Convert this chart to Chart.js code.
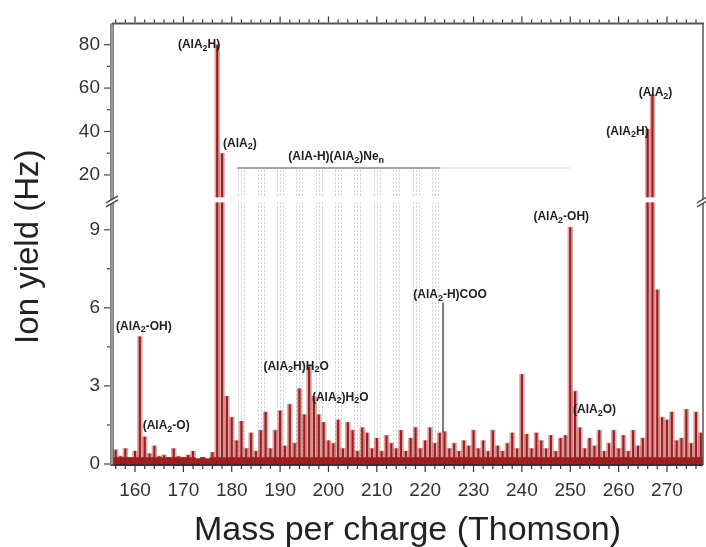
<!DOCTYPE html>
<html>
<head>
<meta charset="utf-8">
<script src="https://cdn.jsdelivr.net/npm/chart.js@4/dist/chart.umd.min.js"></script>
<style>
  html, body { margin: 0; padding: 0; background: #fff; }
  #wrap { width: 706px; height: 547px; }
</style>
</head>
<body>
<div id="wrap"><canvas id="spectrum" width="706" height="547"></canvas></div>
<script>
// Mass spectrum: ion yield per mass-to-charge ratio
const massPerCharge = [
  155,156,157,158,159,160,161,162,163,164,
  165,166,167,168,169,170,171,172,173,174,
  175,176,177,178,179,180,181,182,183,184,
  185,186,187,188,189,190,191,192,193,194,
  195,196,197,198,199,200,201,202,203,204,
  205,206,207,208,209,210,211,212,213,214,
  215,216,217,218,219,220,221,222,223,224,
  225,226,227,228,229,230,231,232,233,234,
  235,236,237,238,239,240,241,242,243,244,
  245,246,247,248,249,250,251,252,253,254,
  255,256,257,258,259,260,261,262,263,264,
  265,266,267,268,269,270,271,272,273,274,
  275,276,277
];
const ionYieldHz = [
  0.5,0.55,0.3,0.6,0.25,0.5,4.9,1.05,0.4,0.7,
  0.3,0.35,0.25,0.6,0.3,0.25,0.35,0.5,0.2,0.25,
  0.2,0.45,80,30,2.6,1.8,0.9,1.65,0.6,1.2,
  0.5,1.3,2.0,0.6,1.3,2.05,0.7,2.3,0.8,2.9,
  1.9,3.75,2.6,1.9,1.6,0.9,0.8,1.7,0.6,1.6,
  1.3,0.5,1.4,1.2,0.6,1.0,0.5,1.1,0.8,0.6,
  1.3,0.5,1.0,1.4,0.6,0.9,1.4,0.8,1.2,1.25,
  0.6,0.8,0.5,0.9,0.7,1.3,0.6,0.9,0.5,1.3,
  0.7,0.5,0.8,1.2,0.6,3.45,1.15,0.6,1.2,0.9,
  0.6,1.1,0.5,1.0,1.1,9.1,2.8,1.4,0.6,1.0,
  0.7,1.3,0.5,0.8,1.3,0.6,1.1,0.5,1.3,0.7,
  1.0,41,57,6.7,1.8,1.7,2.0,0.9,1.0,2.1,
  0.8,2.0,1.2
];

// Tick labels
const xTickValues = [160,170,180,190,200,210,220,230,240,250,260,270];
const lowTickValues = [0,3,6,9];
const highTickValues = [20,40,60,80];
const lowMinorTicks = [1.5,4.5,7.5];
const highMinorTicks = [30,50,70];

// Peak assignments (text, m/z, yield in Hz)
const peakLabels = ['(AlA_2-OH)','(AlA_2-O)','(AlA_2H)','(AlA_2)','(AlA-H)(AlA_2)Ne_n',
                    '(AlA_2-H)COO','(AlA_2H)H_2O','(AlA_2)H_2O','(AlA_2-OH)',
                    '(AlA_2O)','(AlA_2H)','(AlA_2)'];
const peakLabelMz = [161,162,177,178,201.6,223.7,196,197,250,251,266,267];
const peakLabelHz = [4.9,1.05,80,30,23.2,6.2,3.75,2.6,9.1,2.8,41,57];

// Neon-adduct series marked in the 182-222 range
const clusterMz = [182,186,190,194,198,202,206,210,214,218,222];
const clusterTopHz = 22.4;
const clusterLineHz = 23.2;
const clusterSpan = [181.1, 223.1, 249.9];

// (AlA2-H)COO marker line
const markerMz = 223.7;
const markerHz = [1.2, 6.2];

// Axis ranges (broken ordinate)
const X_RANGE = [155.24, 277.45];
const LOW_RANGE = [0, 10.15];
const HIGH_RANGE = [8.52, 89.8];

const FONT = '"Liberation Sans", Arial, sans-serif';

const lowVals = ionYieldHz.map(v => Math.min(v, LOW_RANGE[1]));
const highVals = ionYieldHz.map(v => (v > HIGH_RANGE[0] ? v : null));
const floorVals = ionYieldHz.map(v => Math.min(v, 0.25));
const toPoints = vals => massPerCharge.map((m, i) => ({ x: m, y: vals[i] }));

const LIGHT = 'rgba(180,50,50,0.42)';
const DARK = '#8c1010';

function barSet(vals, axis, color, pct) {
  return {
    type: 'bar', data: toPoints(vals), yAxisID: axis,
    backgroundColor: color, borderWidth: 0, grouped: false,
    barPercentage: pct, categoryPercentage: 1
  };
}

function drawRich(ctx, str, x, y, align, size) {
  const segs = [];
  let buf = '';
  for (let i = 0; i < str.length; i++) {
    if (str[i] === '_') {
      if (buf) { segs.push({ t: buf, sub: false }); buf = ''; }
      segs.push({ t: str[i + 1], sub: true }); i++;
    } else buf += str[i];
  }
  if (buf) segs.push({ t: buf, sub: false });
  const fMain = 'bold ' + size + 'px ' + FONT;
  const fSub = 'bold ' + Math.round(size * 0.72) + 'px ' + FONT;
  let total = 0;
  segs.forEach(s => { ctx.font = s.sub ? fSub : fMain; s.w = ctx.measureText(s.t).width; total += s.w; });
  let cx = align === 'left' ? x : align === 'right' ? x - total : x - total / 2;
  ctx.textAlign = 'left';
  ctx.textBaseline = 'middle';
  segs.forEach(s => {
    ctx.font = s.sub ? fSub : fMain;
    ctx.fillText(s.t, cx, s.sub ? y + 3.5 : y);
    cx += s.w;
  });
}

function seg(ctx, x1, y1, x2, y2) {
  ctx.beginPath(); ctx.moveTo(x1, y1); ctx.lineTo(x2, y2); ctx.stroke();
}

// label placement: [align, dx, dy]
const labelPlacement = [
  ['center', 4, -10], ['left', -2, -11], ['right', 3, 0], ['left', 1, -10],
  ['center', 0, -11], ['center', 7, -8], ['center', -13, 0], ['left', -2, 1],
  ['center', -9, -10], ['left', -2, 19], ['right', 1, 2], ['center', 3, -2]
];

const decor = {
  id: 'decor',
  beforeDatasetsDraw(chart) {
    const { ctx, scales: { x, yLow, yHigh } } = chart;
    ctx.save();
    const top = yHigh.getPixelForValue(clusterTopHz);
    const bottom = yLow.getPixelForValue(0);
    ctx.strokeStyle = 'rgba(150,150,150,0.5)';
    ctx.lineWidth = 1;
    ctx.setLineDash([2, 2]);
    clusterMz.forEach(m => {
      const px = Math.round(x.getPixelForValue(m)) + 0.5;
      seg(ctx, px - 3, top, px - 3, bottom);
      seg(ctx, px, top, px, bottom);
      seg(ctx, px + 3, top, px + 3, bottom);
    });
    ctx.setLineDash([]);
    const ly = yHigh.getPixelForValue(clusterLineHz);
    ctx.lineWidth = 1.5;
    ctx.strokeStyle = '#e6e6e6';
    seg(ctx, x.getPixelForValue(clusterSpan[1]), ly, x.getPixelForValue(clusterSpan[2]), ly);
    ctx.strokeStyle = '#888';
    seg(ctx, x.getPixelForValue(clusterSpan[0]), ly, x.getPixelForValue(clusterSpan[1]), ly);
    ctx.restore();
  },
  afterDatasetsDraw(chart) {
    const { ctx, chartArea: ca, scales: { x, yLow, yHigh } } = chart;
    ctx.save();
    // marker line
    ctx.strokeStyle = '#7a7a7a';
    ctx.lineWidth = 2;
    const mx = x.getPixelForValue(markerMz);
    seg(ctx, mx, yLow.getPixelForValue(markerHz[1]), mx, yLow.getPixelForValue(markerHz[0]));

    // gap at the axis break
    const by = yLow.top;
    ctx.fillStyle = '#fff';
    ctx.fillRect(ca.left, by - 2.5, ca.right - ca.left, 5);

    // peak labels
    ctx.fillStyle = '#1e1e1e';
    peakLabels.forEach((t, i) => {
      const v = peakLabelHz[i];
      const sc = v > LOW_RANGE[1] ? yHigh : yLow;
      const [al, dx, dy] = labelPlacement[i];
      drawRich(ctx, t, x.getPixelForValue(peakLabelMz[i]) + dx, sc.getPixelForValue(v) + dy, al, 12);
    });

    // frame
    ctx.strokeStyle = '#333';
    ctx.lineWidth = 2;
    seg(ctx, ca.left, ca.bottom + 1, ca.right, ca.bottom + 1);
    ctx.strokeStyle = '#555';
    seg(ctx, ca.left, ca.top, ca.right + 1, ca.top);
    ctx.lineWidth = 1.5;
    seg(ctx, ca.right, ca.top, ca.right, ca.bottom + 1);
    ctx.lineWidth = 3.5;
    ctx.strokeStyle = '#5c5c5c';
    seg(ctx, ca.left, ca.top, ca.left, ca.bottom + 2);
    ctx.lineWidth = 1.4;
    ctx.strokeStyle = '#b0b0b0';
    seg(ctx, ca.left, ca.top + 1, ca.left, ca.bottom);

    // ticks on bottom and top
    ctx.strokeStyle = '#333';
    ctx.lineWidth = 1.2;
    for (let v = 156; v <= 277; v += 2) {
      const px = x.getPixelForValue(v);
      const major = v % 10 === 0;
      seg(ctx, px, ca.bottom + 2, px, ca.bottom + (major ? 8 : 5));
      seg(ctx, px, ca.top - 1, px, ca.top - (major ? 7 : 4));
    }
    // ticks on the left
    ctx.strokeStyle = '#444';
    const yt = (sc, v, len) => { const py = sc.getPixelForValue(v); seg(ctx, ca.left - 2, py, ca.left - len, py); };
    lowTickValues.forEach(v => yt(yLow, v, 8));
    lowMinorTicks.forEach(v => yt(yLow, v, 5));
    highTickValues.forEach(v => yt(yHigh, v, 8));
    highMinorTicks.forEach(v => yt(yHigh, v, 5));

    // break marks
    [ca.left, ca.right].forEach(ax => {
      ctx.fillStyle = '#fff';
      ctx.beginPath();
      ctx.moveTo(ax - 6, by + 3); ctx.lineTo(ax + 6, by - 4); ctx.lineTo(ax + 6, by); ctx.lineTo(ax - 6, by + 7);
      ctx.closePath(); ctx.fill();
      ctx.strokeStyle = '#444';
      ctx.lineWidth = 1.3;
      seg(ctx, ax - 6, by + 3, ax + 6, by - 4);
      seg(ctx, ax - 6, by + 7, ax + 6, by);
    });

    // ordinate title
    ctx.translate(38, (ca.top + ca.bottom) / 2 + 3);
    ctx.rotate(-Math.PI / 2);
    ctx.font = '33px ' + FONT;
    ctx.fillStyle = '#222';
    ctx.textAlign = 'center';
    ctx.textBaseline = 'alphabetic';
    ctx.fillText('Ion yield (Hz)', 0, 0);
    ctx.restore();
  }
};

const tickFont = { family: FONT, size: 19 };

new Chart(document.getElementById('spectrum'), {
  type: 'bar',
  data: {
    datasets: [
      barSet(lowVals, 'yLow', LIGHT, 1),
      barSet(highVals, 'yHigh', LIGHT, 1),
      barSet(lowVals, 'yLow', DARK, 0.45),
      barSet(highVals, 'yHigh', DARK, 0.45),
      barSet(floorVals, 'yLow', DARK, 1)
    ]
  },
  options: {
    responsive: false,
    devicePixelRatio: 1,
    animation: false,
    layout: { padding: { top: 22, right: 3, left: 0, bottom: 0 } },
    plugins: { legend: { display: false }, tooltip: { enabled: false } },
    scales: {
      x: {
        type: 'linear', position: 'bottom', offset: false,
        min: X_RANGE[0], max: X_RANGE[1],
        afterBuildTicks: s => { s.ticks = xTickValues.map(v => ({ value: v })); },
        afterFit: s => { s.height = 83; },
        grid: { display: false, drawTicks: false, offset: false },
        border: { display: false },
        ticks: { font: tickFont, color: '#333', padding: 15, maxRotation: 0, autoSkip: false },
        title: {
          display: true, text: 'Mass per charge (Thomson)', color: '#222',
          font: { family: FONT, size: 34, lineHeight: 1 }, padding: { top: 0, bottom: -1 }
        }
      },
      yLow: {
        type: 'linear', position: 'left', stack: 'y', stackWeight: 265,
        min: LOW_RANGE[0], max: LOW_RANGE[1],
        afterBuildTicks: s => { s.ticks = lowTickValues.map(v => ({ value: v })); },
        afterFit: s => { s.width = 112; },
        grid: { display: false, drawTicks: false },
        border: { display: false },
        ticks: { font: tickFont, color: '#333', padding: 12, autoSkip: false }
      },
      yHigh: {
        type: 'linear', position: 'left', stack: 'y', stackWeight: 177,
        min: HIGH_RANGE[0], max: HIGH_RANGE[1],
        afterBuildTicks: s => { s.ticks = highTickValues.map(v => ({ value: v })); },
        afterFit: s => { s.width = 112; },
        grid: { display: false, drawTicks: false },
        border: { display: false },
        ticks: { font: tickFont, color: '#333', padding: 12, autoSkip: false }
      }
    }
  },
  plugins: [decor]
});
</script>
</body>
</html>
